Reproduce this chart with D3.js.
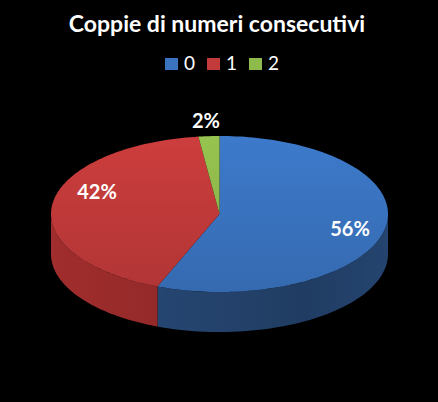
<!DOCTYPE html>
<html><head><meta charset="utf-8">
<script src="https://cdn.jsdelivr.net/npm/d3@7"></script>
<style>html,body{margin:0;padding:0;background:#000;}svg{display:block;}</style>
</head><body>
<svg id="c" width="438" height="402"></svg>
<script>
const categories = ["0", "1", "2"];
const values = [56, 42, 2];
const labels = ["56%", "42%", "2%"];
const topColors = ["#3a74c0", "#c23a3a", "#8fba4c"];
const sideColors = ["#23426b", "#8c2727", "#6a8a34"];

const W = 438, H = 402;
const svg = d3.select("#c");
svg.append("rect").attr("width", W).attr("height", H).attr("fill", "#000");

const cx = 219.5, cy = 214, rx = 168.5, ry = 78, depth = 40;

const defs = svg.append("defs");
categories.forEach((c, i) => {
  const base = d3.color(topColors[i]);
  const g = defs.append("linearGradient").attr("id", "top" + i)
    .attr("gradientUnits", "userSpaceOnUse")
    .attr("x1", 0).attr("y1", cy - ry).attr("x2", 0).attr("y2", cy + ry);
  g.append("stop").attr("offset", "0%").attr("stop-color", base.brighter(0.15));
  g.append("stop").attr("offset", "100%").attr("stop-color", base.darker(0.25));
  const sb = d3.color(sideColors[i]);
  const s = defs.append("linearGradient").attr("id", "side" + i)
    .attr("gradientUnits", "userSpaceOnUse")
    .attr("x1", cx - rx).attr("y1", 0).attr("x2", cx + rx).attr("y2", 0);
  s.append("stop").attr("offset", "0%").attr("stop-color", sb.brighter(0.4));
  s.append("stop").attr("offset", "45%").attr("stop-color", sb.brighter(0.05));
  s.append("stop").attr("offset", "75%").attr("stop-color", sb.darker(0.25));
  s.append("stop").attr("offset", "100%").attr("stop-color", sb.brighter(0.1));
});

const pie = d3.pie().sort(null).startAngle(0).endAngle(2 * Math.PI);
const arcs = pie(values);

const px = a => cx + rx * Math.sin(a);
const py = (a, dy) => cy - ry * Math.cos(a) + (dy || 0);

function sidePath(a0, a1) {
  const lo = Math.max(a0, Math.PI / 2), hi = Math.min(a1, 3 * Math.PI / 2);
  if (hi <= lo) return null;
  const n = 60, p = d3.path();
  for (let k = 0; k <= n; k++) {
    const a = lo + (hi - lo) * k / n;
    k ? p.lineTo(px(a), py(a)) : p.moveTo(px(a), py(a));
  }
  for (let k = n; k >= 0; k--) {
    const a = lo + (hi - lo) * k / n;
    p.lineTo(px(a), py(a, depth));
  }
  p.closePath();
  return p.toString();
}
function topPath(a0, a1) {
  const n = Math.max(4, Math.ceil((a1 - a0) * 40)), p = d3.path();
  p.moveTo(cx, cy);
  for (let k = 0; k <= n; k++) {
    const a = a0 + (a1 - a0) * k / n;
    p.lineTo(px(a), py(a));
  }
  p.closePath();
  return p.toString();
}

const g = svg.append("g");
arcs.forEach((d, i) => {
  const sp = sidePath(d.startAngle, d.endAngle);
  if (sp) g.append("path").attr("d", sp).attr("fill", `url(#side${i})`);
});
arcs.forEach((d, i) => {
  g.append("path").attr("d", topPath(d.startAngle, d.endAngle)).attr("fill", `url(#top${i})`);
});

// labels
const labelPos = [[350, 228], [97, 191], [206, 120]];
arcs.forEach((d, i) => {
  svg.append("text").attr("x", labelPos[i][0]).attr("y", labelPos[i][1])
    .attr("text-anchor", "middle").attr("dominant-baseline", "central")
    .attr("font-family", "Lato, 'Open Sans', sans-serif").attr("font-weight", "bold")
    .attr("font-size", 20).attr("fill", "#fff").text(labels[i]);
});

// title
svg.append("text").attr("x", 217).attr("y", 32).attr("text-anchor", "middle")
  .attr("font-family", "Lato, 'Open Sans', sans-serif").attr("font-weight", "bold")
  .attr("font-size", 23).attr("fill", "#fff").text("Coppie di numeri consecutivi");

// legend
const legX = d3.scalePoint().domain(categories).range([165, 249]);
const leg = svg.append("g");
categories.forEach((c, i) => {
  const x = legX(c);
  leg.append("rect").attr("x", x).attr("y", 58).attr("width", 13).attr("height", 12)
    .attr("fill", topColors[i]);
  leg.append("text").attr("x", x + 19).attr("y", 70)
    .attr("font-family", "Lato, 'Open Sans', sans-serif").attr("font-size", 19)
    .attr("fill", "#fff").text(c);
});
</script>
</body></html>
